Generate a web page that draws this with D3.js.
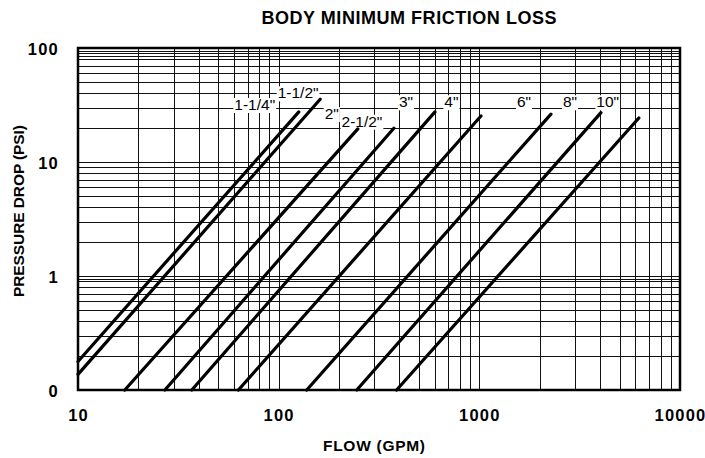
<!DOCTYPE html>
<html>
<head>
<meta charset="utf-8">
<script src="https://cdn.jsdelivr.net/npm/d3@7"></script>
<style>
	body { margin: 0; background: #fff; }
	svg { font-family: "Liberation Sans", Arial, sans-serif; }
</style>
</head>
<body>
<div id="chart"></div>
<script>
// Pipe sizes and the two ends of each friction-loss line (flow in GPM, drop in PSI)
var sizes = ['1-1/4"', '1-1/2"', '2"', '2-1/2"', '3"', '4"', '6"', '8"', '10"'];
var flows = [[10, 126], [10, 161], [17.1, 248], [27.1, 375], [36.9, 601], [63, 1019], [138, 2275], [245, 4037], [387, 6237]];
var drops = [[0.178, 27.5], [0.137, 35.5], [0.1, 19.5], [0.1, 19.8], [0.1, 27.5], [0.1, 25.3], [0.1, 26.3], [0.1, 27.1], [0.1, 24.3]];

// where each size label sits (data units)
var labelFlow = [76, 125, 184, 260, 431, 726, 1670, 2830, 4362];
var labelDrop = [28.6, 36.2, 23.8, 20.4, 30.2, 30.2, 30.2, 30.2, 30.2];

// axis ticks
var xTicks = [10, 100, 1000, 10000];
var xTickLabels = ["10", "100", "1000", "10000"];
var yTicks = [0.1, 1, 10, 100];
var yTickLabels = ["0", "1", "10", "100"];

// grid lines (the top decade has a couple of extra rulings)
var xGrid = [];
[10, 100, 1000].forEach(function(d) {
	for (var i = 1; i <= 9; i++) xGrid.push(d * i);
});
xGrid.push(10000);
var yGrid = [0.1, 0.2, 0.3, 0.4, 0.5, 0.6, 0.7, 0.8, 0.9, 0.95,
	1, 2, 3, 4, 5, 6, 7, 8, 9,
	10, 20, 30, 40, 50, 60, 70, 80, 85, 90, 95, 100];

var W = 705, H = 458;
var box = { left: 78, right: 680, top: 48, bottom: 390 };

var x = d3.scaleLog().domain([10, 10000]).range([box.left, box.right]);
var y = d3.scaleLog().domain([0.1, 100]).range([box.bottom, box.top]);

var svg = d3.select("#chart").append("svg")
	.attr("width", W)
	.attr("height", H);

// Grid
var grid = svg.append("g").attr("class", "grid")
	.attr("stroke", "#111")
	.attr("stroke-width", 1)
	.attr("shape-rendering", "crispEdges");
grid.selectAll("line.v").data(xGrid).enter().append("line")
	.attr("class", "v")
	.attr("x1", function(d) { return Math.round(x(d)) + 0.5; })
	.attr("x2", function(d) { return Math.round(x(d)) + 0.5; })
	.attr("y1", box.top)
	.attr("y2", box.bottom);
grid.selectAll("line.h").data(yGrid).enter().append("line")
	.attr("class", "h")
	.attr("y1", function(d) { return Math.round(y(d)) + 0.5; })
	.attr("y2", function(d) { return Math.round(y(d)) + 0.5; })
	.attr("x1", box.left)
	.attr("x2", box.right);

// Size labels with a white box behind them
var labels = svg.append("g").attr("class", "labels");
sizes.forEach(function(s, i) {
	var g = labels.append("g");
	var t = g.append("text")
		.attr("x", x(labelFlow[i]))
		.attr("y", y(labelDrop[i]))
		.attr("text-anchor", "middle")
		.attr("font-size", 15.5)
		.attr("fill", "#000")
		.text(s);
	var bb = t.node().getBBox();
	g.insert("rect", "text")
		.attr("x", bb.x - 1)
		.attr("y", bb.y + 2)
		.attr("width", bb.width + 2)
		.attr("height", bb.height - 2)
		.attr("fill", "#fff");
});

// Curves
var line = d3.line()
	.x(function(d) { return x(d[0]); })
	.y(function(d) { return y(d[1]); });
svg.append("g").attr("class", "curves")
	.selectAll("path").data(sizes).enter().append("path")
	.attr("d", function(s, i) {
		return line(flows[i].map(function(f, j) { return [f, drops[i][j]]; }));
	})
	.attr("fill", "none")
	.attr("stroke", "#000")
	.attr("stroke-width", 3.2)
	.attr("stroke-linecap", "round");

// Frame
svg.append("rect")
	.attr("x", box.left)
	.attr("y", box.top)
	.attr("width", box.right - box.left)
	.attr("height", box.bottom - box.top)
	.attr("fill", "none")
	.attr("stroke", "#000")
	.attr("stroke-width", 2.5);

// Axes (labels only)
var xAxis = d3.axisBottom(x).tickValues(xTicks)
	.tickFormat(function(d, i) { return xTickLabels[i]; })
	.tickSize(0).tickPadding(19);
var gx = svg.append("g").attr("transform", `translate(0, ${box.bottom})`).call(xAxis);
var yAxis = d3.axisLeft(y).tickValues(yTicks)
	.tickFormat(function(d, i) { return yTickLabels[i]; })
	.tickSize(0).tickPadding(19);
var gy = svg.append("g").attr("transform", `translate(${box.left}, 0)`).call(yAxis);
[gx, gy].forEach(function(g) {
	g.select(".domain").remove();
	g.selectAll("text")
		.attr("font-family", "Liberation Sans, Arial, sans-serif")
		.attr("font-size", 16.5)
		.attr("font-weight", "bold")
		.attr("letter-spacing", 1.2)
		.attr("fill", "#000");
});
gy.selectAll("text").attr("dy", "0.4em");

// Titles
svg.append("text")
	.attr("x", 409).attr("y", 24)
	.attr("text-anchor", "middle")
	.attr("font-size", 18)
	.attr("font-weight", "bold")
	.attr("textLength", 295)
	.attr("lengthAdjust", "spacing")
	.text("BODY MINIMUM FRICTION LOSS");

svg.append("text")
	.attr("x", 374).attr("y", 450.5)
	.attr("text-anchor", "middle")
	.attr("font-size", 15.5)
	.attr("font-weight", "bold")
	.attr("textLength", 102)
	.attr("lengthAdjust", "spacing")
	.text("FLOW (GPM)");

svg.append("text")
	.attr("transform", "translate(23.5, 211) rotate(-90)")
	.attr("text-anchor", "middle")
	.attr("font-size", 15.5)
	.attr("font-weight", "bold")
	.attr("textLength", 172)
	.attr("lengthAdjust", "spacing")
	.text("PRESSURE DROP (PSI)");
</script>
</body>
</html>
